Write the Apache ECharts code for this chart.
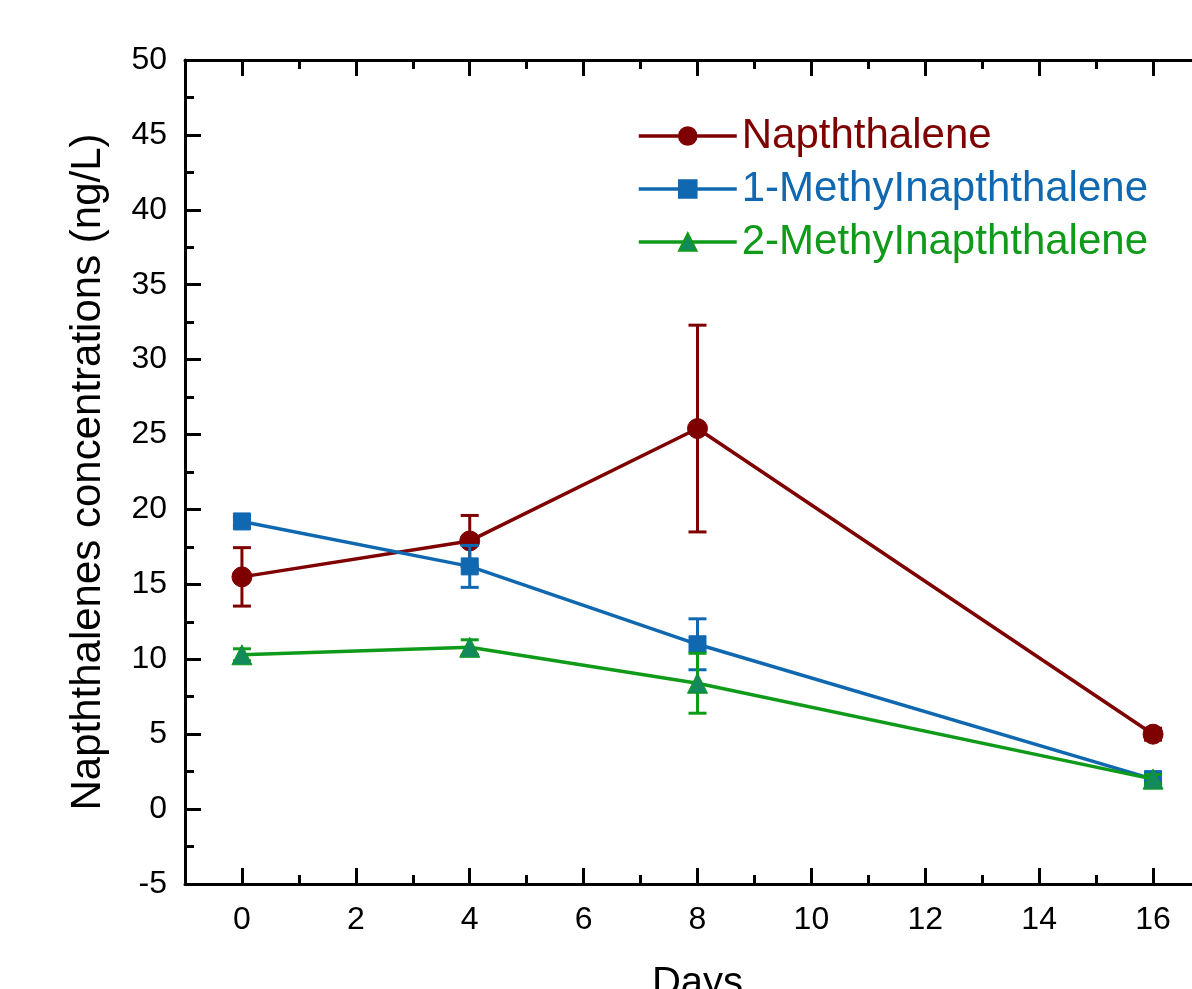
<!DOCTYPE html>
<html>
<head>
<meta charset="utf-8">
<script src="https://cdn.jsdelivr.net/npm/echarts@6/dist/echarts.min.js"></script>
<style>
  html, body { margin: 0; padding: 0; background: #fff; }
  #chart { width: 1192px; height: 989px; }
</style>
</head>
<body>
<div id="chart"></div>
<script>
// data
const days = [0, 4, 8, 16];
const naphthalene = [15.5, 17.9, 25.4, 5.0];
const naphthaleneErr = [1.95, 1.7, 6.9, 0.4];
const methyl1 = [19.2, 16.2, 11.0, 2.0];
const methyl1Err = [0.3, 1.4, 1.7, 0.3];
const methyl2 = [10.3, 10.8, 8.4, 2.0];
const methyl2Err = [0.4, 0.5, 2.0, 0.3];
const majorTicksX = [0, 2, 4, 6, 8, 10, 12, 14, 16];
const minorTicksX = [1, 3, 5, 7, 9, 11, 13, 15, 17];

const fontFamily = "'Liberation Sans', Arial, sans-serif";
const red = "#7f0000";
const blue = "#1068b0";
const green = "#0f9a1a";
const greenFill = "#138a5c";

function points(vals) {
  return days.map((d, i) => [d, vals[i]]);
}
function errData(vals, errs) {
  return days.map((d, i) => [d, vals[i], vals[i] - errs[i], vals[i] + errs[i]]);
}

function errorBars(name, vals, errs, color, z) {
  return {
    type: "custom",
    name: name + " err",
    z: z,
    renderItem: (params, api) => {
      let x = api.value(0);
      let lo = api.coord([x, api.value(2)]);
      let hi = api.coord([x, api.value(3)]);
      let half = 9;
      let style = { stroke: color, lineWidth: 3 };
      return {
        type: "group",
        children: [
          { type: "line", shape: { x1: lo[0], y1: lo[1], x2: hi[0], y2: hi[1] }, style: style },
          { type: "line", shape: { x1: lo[0] - half, y1: lo[1], x2: lo[0] + half, y2: lo[1] }, style: style },
          { type: "line", shape: { x1: hi[0] - half, y1: hi[1], x2: hi[0] + half, y2: hi[1] }, style: style },
        ],
      };
    },
    encode: { x: 0, y: [1, 2, 3] },
    data: errData(vals, errs),
    silent: true,
  };
}

function lineSeries(name, vals, color, symbol, size, fill, z) {
  return {
    name: name,
    type: "line",
    z: z,
    data: points(vals),
    symbol: symbol,
    symbolSize: size,
    showAllSymbol: true,
    lineStyle: { color: color, width: 3.5 },
    itemStyle: { color: fill, borderColor: color, borderWidth: 1 },
    color: color,
  };
}

const tickAxisBase = {
  type: "value",
  min: -1,
  max: 17,
  axisLine: { show: false, onZero: false },
  axisLabel: { show: false },
  splitLine: { show: false },
};

let option = {
  animation: false,
  textStyle: { fontFamily: fontFamily },
  grid: { left: 185, top: 60, width: 1025, height: 824, outerBoundsMode: "none", containLabel: false },
  legend: {
    left: 632,
    top: 110,
    orient: "vertical",
    itemWidth: 98,
    itemHeight: 22,
    itemGap: 11,
    lineStyle: { width: 3.5 },
    textStyle: { fontSize: 42, fontFamily: fontFamily },
    data: [
      { name: "Napththalene", textStyle: { color: red } },
      { name: "1-MethyInapththalene", textStyle: { color: blue } },
      { name: "2-MethyInapththalene", textStyle: { color: green } },
    ],
  },
  xAxis: [
    {
      type: "value",
      position: "bottom",
      min: -1,
      max: 17,
      name: "Days",
      nameLocation: "middle",
      nameGap: 80,
      nameTextStyle: { fontSize: 40, color: "#000", fontFamily: fontFamily },
      axisLine: { show: true, onZero: false, lineStyle: { color: "#000", width: 3 } },
      axisTick: { show: true, inside: true, length: 16, lineStyle: { width: 3, color: "#000" }, customValues: majorTicksX },
      axisLabel: { fontSize: 32, color: "#000", margin: 20, customValues: majorTicksX },
      splitLine: { show: false },
    },
    {
      ...tickAxisBase,
      position: "bottom",
      axisTick: { show: true, inside: true, length: 9, lineStyle: { width: 3, color: "#000" }, customValues: minorTicksX },
    },
    {
      type: "value",
      position: "top",
      min: -1,
      max: 17,
      axisLine: { show: true, onZero: false, lineStyle: { color: "#000", width: 3 } },
      axisTick: { show: true, inside: true, length: 16, lineStyle: { width: 3, color: "#000" }, customValues: majorTicksX },
      axisLabel: { show: false },
      splitLine: { show: false },
    },
    {
      ...tickAxisBase,
      position: "top",
      axisTick: { show: true, inside: true, length: 9, lineStyle: { width: 3, color: "#000" }, customValues: minorTicksX },
    },
  ],
  yAxis: {
    type: "value",
    min: -5,
    max: 50,
    interval: 5,
    name: "Napththalenes concentrations (ng/L)",
    nameLocation: "middle",
    nameGap: 76,
    nameTextStyle: { fontSize: 42, color: "#000", fontFamily: fontFamily },
    axisLine: { show: true, onZero: false, lineStyle: { color: "#000", width: 3 } },
    axisTick: { show: true, inside: true, length: 16, lineStyle: { width: 3, color: "#000" } },
    minorTick: { show: true, splitNumber: 2, length: 9, lineStyle: { width: 3, color: "#000" } },
    axisLabel: { fontSize: 32, color: "#000", margin: 18 },
    splitLine: { show: false },
  },
  series: [
    lineSeries("Napththalene", naphthalene, red, "circle", 20, red, 3),
    lineSeries("1-MethyInapththalene", methyl1, blue, "rect", 17, blue, 4),
    lineSeries("2-MethyInapththalene", methyl2, green, "triangle", 20, greenFill, 5),
    errorBars("Napththalene", naphthalene, naphthaleneErr, red, 3),
    errorBars("1-MethyInapththalene", methyl1, methyl1Err, blue, 4),
    errorBars("2-MethyInapththalene", methyl2, methyl2Err, green, 5),
  ],
};

let chart = echarts.init(document.getElementById("chart"));
chart.setOption(option);
</script>
</body>
</html>
